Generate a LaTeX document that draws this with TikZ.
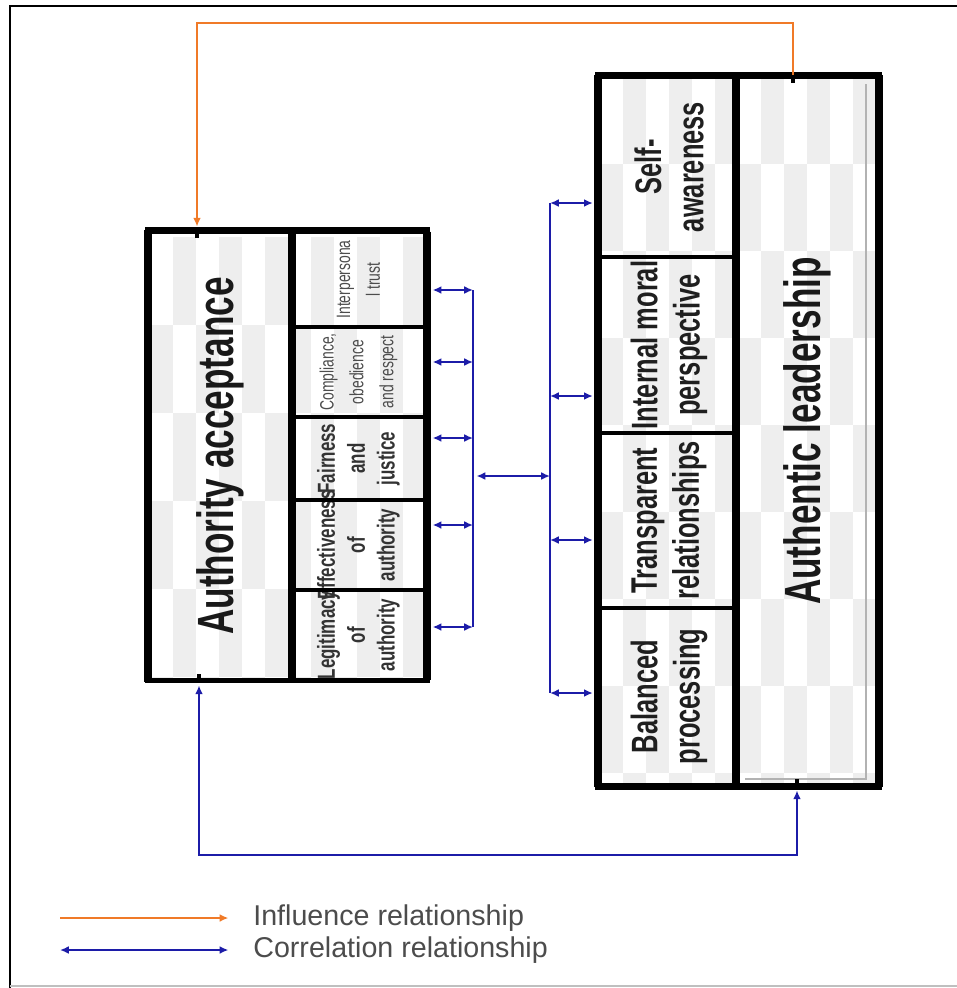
\documentclass[tikz,border=0pt]{standalone}
\usepackage{fontspec}
\setmainfont{Liberation Sans}
\newfontfamily\condfont[FakeStretch=0.69]{Liberation Sans}
\newfontfamily\narrowfont[FakeStretch=0.72]{Liberation Sans}
\usetikzlibrary{arrows.meta, calc, fit}
\definecolor{inflorange}{RGB}{240,122,40}
\definecolor{corrblue}{RGB}{28,28,168}
\definecolor{checkgray}{RGB}{238,238,238}

\begin{document}
\begin{tikzpicture}[x=0.02cm, y=-0.02cm,
  cell/.style={draw=black, line width=2.2pt, inner sep=0pt},
  cellarea/.style={inner sep=0pt},
  cellline/.style={draw=black, line width=2.2pt},
  frame/.style={draw=black, line width=3pt},
  side/.style={draw=black, line width=4.6pt},
  bigtext/.style={rotate=90, font=\condfont\bfseries\fontsize{29}{34}\selectfont, text=black!90},
  dimtext/.style={rotate=90, align=center, font=\condfont\bfseries\fontsize{21}{24}\selectfont, text=black!88},
  subtext/.style={rotate=90, align=center, font=\condfont\bfseries\fontsize{14}{17}\selectfont, text=black!80},
  smalltext/.style={rotate=90, align=center, font=\narrowfont\fontsize{11}{17}\selectfont, text=black!70},
  infl/.style={draw=inflorange, line width=1.5pt, -{Latex[length=5pt,width=4.5pt]}},
  corr/.style={draw=corrblue, line width=1.3pt, {Latex[length=5pt,width=4.5pt]}-{Latex[length=5pt,width=4.5pt]}},
  bar/.style={draw=corrblue, line width=1.3pt},
  legtext/.style={anchor=west, inner sep=0pt, font=\fontsize{16.3}{18}\selectfont, text=black!70}]

  \useasboundingbox (0,0) rectangle (957,988);

  %--- outer frame ---
  \draw[line width=1.7pt] (10,988) -- (10,6) -- (957,6);
  \draw[black!25, line width=0.8pt] (10,986) -- (957,986);

  %--- checker background ---
  \begin{scope}
    \clip (150,232) rectangle (427,680);
    \foreach \i in {0,...,12}
      \foreach \j in {0,...,5} {
        \pgfmathtruncatemacro\odd{mod(\i+\j,2)}
        \ifnum\odd=1 \fill[checkgray] ({150+23*\i},{237+88*\j}) rectangle ++(23,88); \fi
      }
  \end{scope}
  \begin{scope}
    \clip (600,77) rectangle (877,785);
    \foreach \i in {0,...,12}
      \foreach \j in {0,...,8} {
        \pgfmathtruncatemacro\odd{mod(\i+\j,2)}
        \ifnum\odd=1 \fill[checkgray] ({600+23*\i},{77+87*\j}) rectangle ++(23,87); \fi
      }
  \end{scope}

  %--- Authority acceptance ---
  \node[cell, fit={(150,232) (290,680)}] (accept) {};
  \node[cellarea, fit={(290,232) (427,327)}] (trust) {};
  \node[cellarea, fit={(290,327) (427,417)}] (comply) {};
  \node[cellarea, fit={(290,417) (427,500)}] (fair) {};
  \node[cellarea, fit={(290,500) (427,590)}] (effect) {};
  \node[cellarea, fit={(290,590) (427,680)}] (legit) {};
  \node[bigtext] (acceptlbl) at (accept) {Authority acceptance};
  \node[smalltext] (trustlbl) at (trust) {Interpersona\\l trust};
  \node[smalltext] (complylbl) at (comply) {Compliance,\\obedience\\and respect};
  \node[subtext] (fairlbl) at (fair) {Fairness\\and\\justice};
  \node[subtext] (effectlbl) at (effect) {Effectiveness\\of\\authority};
  \node[subtext] (legitlbl) at (legit) {Legitimacy\\of\\authority};
  \foreach \c in {trust,comply,fair,effect,legit}
    \draw[cellline] (\c.north west) rectangle (\c.south east);
  \draw[frame] (accept.north west) rectangle (legit.south east);
  \draw[side] (accept.north west) -- (accept.south west);
  \draw[side] (accept.north east) -- (accept.south east);
  \draw[side] (trust.north east) -- (legit.south east);

  %--- Authentic leadership ---
  \node[cell, fit={(600,77) (738,257)}] (selfaw) {};
  \node[cell, fit={(600,257) (738,433)}] (moral) {};
  \node[cell, fit={(600,433) (738,608)}] (transp) {};
  \node[cell, fit={(600,608) (738,785)}] (balance) {};
  \node[cell, fit={(738,77) (877,785)}] (authlead) {};
  \draw[black!30, line width=0.9pt] (866,84) -- (866,779) -- (745,779);
  \node[dimtext] (selfawlbl) at (selfaw) {Self-\\awareness};
  \node[dimtext] (morallbl) at (moral) {Internal moral\\perspective};
  \node[dimtext] (transplbl) at (transp) {Transparent\\relationships};
  \node[dimtext] (balancelbl) at (balance) {Balanced\\processing};
  \node[bigtext] (authleadlbl) at (authlead) {Authentic leadership};
  \draw[frame] (selfaw.north west) rectangle (authlead.south east);
  \draw[side] (selfaw.north west) -- (balance.south west);
  \draw[side] (authlead.north west) -- (authlead.south west);
  \draw[side] (authlead.north east) -- (authlead.south east);

  %--- correlation brackets ---
  \coordinate (lbar1) at (473,290);
  \coordinate (lbar2) at (473,362);
  \coordinate (lbar3) at (473,438);
  \coordinate (lbar4) at (473,525);
  \coordinate (lbar5) at (473,627);
  \coordinate (rbar1) at (550,203);
  \coordinate (rbar2) at (550,396);
  \coordinate (rbar3) at (550,540);
  \coordinate (rbar4) at (550,693);
  \coordinate (midl) at (473,476);
  \coordinate (midr) at (550,476);
  \draw[bar] (lbar1) -- (lbar5);
  \draw[bar] (rbar1) -- (rbar4);
  \draw[corr, shorten <=3pt] (lbar1 -| trust.east) -- (lbar1);
  \draw[corr, shorten <=3pt] (lbar2 -| comply.east) -- (lbar2);
  \draw[corr, shorten <=3pt] (lbar3 -| fair.east) -- (lbar3);
  \draw[corr, shorten <=3pt] (lbar4 -| effect.east) -- (lbar4);
  \draw[corr, shorten <=3pt] (lbar5 -| legit.east) -- (lbar5);
  \draw[corr, shorten >=3pt] (rbar1) -- (rbar1 -| selfaw.west);
  \draw[corr, shorten >=3pt] (rbar2) -- (rbar2 -| moral.west);
  \draw[corr, shorten >=3pt] (rbar3) -- (rbar3 -| transp.west);
  \draw[corr, shorten >=3pt] (rbar4) -- (rbar4 -| balance.west);
  \draw[corr, shorten <=2pt] (midl) -- (midr);

  %--- influence and overall correlation ---
  \coordinate (otopr) at (793,23);
  \coordinate (otopl) at (197,23);
  \coordinate (cbotl) at (199,855);
  \coordinate (cbotr) at (797,855);
  \draw[infl, shorten >=2pt] (authlead.north -| otopr) -- (otopr) -- (otopl) -- (otopl |- accept.north);
  \draw[corr, shorten <=2pt, shorten >=2pt] (accept.south -| cbotl) -- (cbotl) -- (cbotr) -- (cbotr |- authlead.south);
  \draw[line width=2.2pt] (otopl |- accept.north) -- ++(0,8);
  \draw[line width=2.2pt] (cbotl |- accept.south) -- ++(0,-8);
  \draw[line width=2.2pt] (otopr |- authlead.north) -- ++(0,8);
  \draw[line width=2.2pt] (cbotr |- authlead.south) -- ++(0,-8);

  %--- legend ---
  \node[legtext] (infllbl) at (253,918) {Influence relationship};
  \node[legtext] (corrlbl) at (253,950) {Correlation relationship};
  \coordinate (legi) at (60,918);
  \coordinate (legc) at (60,950);
  \draw[infl, line width=1.2pt, shorten >=14pt] (legi) -- (legi -| infllbl.west);
  \draw[corr, line width=1.2pt, shorten >=14pt] (legc) -- (legc -| corrlbl.west);
\end{tikzpicture}
\end{document}
